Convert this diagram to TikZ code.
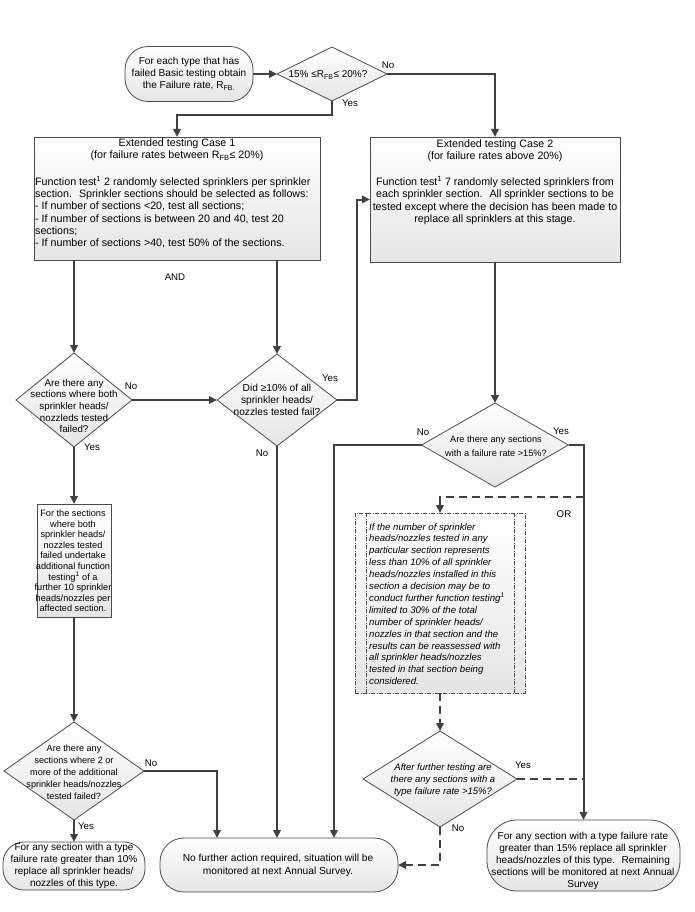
\documentclass[tikz,border=0pt]{standalone}
\usepackage{fontspec}
\setmainfont{Liberation Sans}
\usetikzlibrary{shapes.geometric,arrows.meta}
\definecolor{linec}{HTML}{404040}
\definecolor{borderc}{HTML}{4A4A4A}
\newcommand\fz[2]{\fontsize{#1}{#2}\selectfont}
\begin{document}
\begin{tikzpicture}[x=1pt,y=-1pt,
  shapebox/.style={draw=borderc, line width=0.8pt, top color=white, bottom color=black!10, inner sep=0pt, outer sep=0pt},
  dashbox/.style={draw=borderc, line width=0.8pt, dash pattern=on 4pt off 1.5pt on 1pt off 1.5pt, top color=white, bottom color=black!10, inner sep=0pt, outer sep=0pt},
  txt/.style={align=center, inner sep=0pt, text=black},
  lab/.style={inner sep=0pt, font=\fz{9.7}{11}},
  conn/.style={draw=linec, line width=2pt, -{Triangle[length=8pt,width=7.5pt]}},
  plain/.style={draw=linec, line width=2pt},
  dconn/.style={conn, dash pattern=on 8pt off 5pt},
  dplain/.style={plain, dash pattern=on 8pt off 5pt}
]
\useasboundingbox (0,0) rectangle (694,912);

% ---------- shapes ----------
\node[shapebox, rounded corners=23pt, minimum width=128pt, minimum height=55pt] (start) at (189,74) {};
\node[shapebox, diamond, minimum width=110pt, minimum height=54pt] (d1) at (332,74) {};
\node[shapebox, rectangle, minimum width=286pt, minimum height=123pt] (b1) at (177,198.5) {};
\node[shapebox, rectangle, minimum width=250pt, minimum height=125pt] (b2) at (495,199.5) {};
\node[shapebox, diamond, minimum width=116pt, minimum height=94pt] (d3) at (74,400) {};
\node[shapebox, diamond, minimum width=120pt, minimum height=92pt] (d4) at (277,400) {};
\node[shapebox, diamond, minimum width=147pt, minimum height=84pt] (d6) at (495,445) {};
\node[shapebox, rectangle, minimum width=74pt, minimum height=113pt] (b3) at (74,560.5) {};
\node[dashbox, rectangle, minimum width=170pt, minimum height=180pt] (b4) at (440,603) {};
\draw[borderc, line width=0.8pt, dash pattern=on 4pt off 1.5pt on 1pt off 1.5pt]
  ([xshift=11pt]b4.north west) -- ([xshift=11pt]b4.south west)
  ([xshift=-11pt]b4.north east) -- ([xshift=-11pt]b4.south east);
\node[shapebox, diamond, minimum width=140pt, minimum height=98pt] (d5) at (74,771) {};
\node[shapebox, diamond, minimum width=154pt, minimum height=96pt] (d7) at (440,779) {};
\node[shapebox, rounded corners=21pt, minimum width=142pt, minimum height=48pt] (t1) at (74,866) {};
\node[shapebox, rounded corners=24pt, minimum width=238pt, minimum height=54pt] (t2) at (279,865) {};
\node[shapebox, rounded corners=30pt, minimum width=193pt, minimum height=71pt] (t3) at (583.5,855.5) {};

% ---------- texts ----------
\node[txt, font=\fz{10.1}{12}] (tstart) at (189,74) {For each type that has\\failed Basic testing obtain\\the Failure rate, R\textsubscript{FB.}};
\node[txt, font=\fz{10}{12}] (td1) at (328,75) {15\% ≤R\textsubscript{FB}≤ 20\%?};
\node[txt, font=\fz{10.7}{12.3}] (tb1h) at (177,150) {Extended testing Case 1\\(for failure rates between R\textsubscript{FB}≤ 20\%)};
\node[txt, align=left, anchor=west, font=\fz{10.7}{12.3}] (tb1b) at (35,212) {Function test\textsuperscript{1} 2 randomly selected sprinklers per sprinkler\\section.~ Sprinkler sections should be selected as follows:\\- If number of sections <20, test all sections;\\- If number of sections is between 20 and 40, test 20\\sections;\\- If number of sections >40, test 50\% of the sections.};
\node[txt, font=\fz{10.7}{12.3}] (tb2h) at (495,151) {Extended testing Case 2\\(for failure rates above 20\%)};
\node[txt, font=\fz{10.7}{12.3}] (tb2b) at (495,200.5) {Function test\textsuperscript{1} 7 randomly selected sprinklers from\\each sprinkler section.~ All sprinkler sections to be\\tested except where the decision has been made to\\replace all sprinklers at this stage.};
\node[txt, font=\fz{9.8}{11.7}] (td3) at (74,406) {Are there any\\sections where both\\sprinkler heads/\\nozzleds tested\\failed?};
\node[txt, font=\fz{10.2}{12}] (td4) at (277,400) {Did ≥10\% of all\\sprinkler heads/\\nozzles tested fail?};
\node[txt, font=\fz{9.2}{13.5}] (td6) at (496,446) {Are there any sections\\with a failure rate >15\%?};
\node[txt, font=\fz{9.2}{10.6}] (tb3) at (73,561) {For the sections\\where both\\sprinkler heads/\\nozzles tested\\failed undertake\\additional function\\testing\textsuperscript{1} of a\\further 10 sprinkler\\heads/nozzles per\\affected section.};
\node[txt, align=left, anchor=west, font=\fz{9.6}{11.9}\itshape] (tb4) at (369,604) {If the number of sprinkler\\heads/nozzles tested in any\\particular section represents\\less than 10\% of all sprinkler\\heads/nozzles installed in this\\section a decision may be to\\conduct further function testing\textsuperscript{1}\\limited to 30\% of the total\\number of sprinkler heads/\\nozzles in that section and the\\results can be reassessed with\\all sprinkler heads/nozzles\\tested in that section being\\considered.};
\node[txt, font=\fz{9.1}{12}] (td5) at (74,772) {Are there any\\sections where 2 or\\more of the additional\\sprinkler heads/nozzles\\tested failed?};
\node[txt, font=\fz{9.5}{12}\itshape] (td7) at (443,780) {After further testing are\\there any sections with a\\type failure rate >15\%?};
\node[txt, font=\fz{10}{12}] (tt1) at (74,866) {For any section with a type\\failure rate greater than 10\%\\replace all sprinkler heads/\\nozzles of this type.};
\node[txt, font=\fz{10.2}{12.8}] (tt2) at (278,865.5) {No further action required, situation will be\\monitored at next Annual Survey.};
\node[txt, font=\fz{10.1}{12}] (tt3) at (583,861) {For any section with a type failure rate\\greater than 15\% replace all sprinkler\\heads/nozzles of this type.~ Remaining\\sections will be monitored at next Annual\\Survey};

% ---------- labels ----------
\node[lab] (l1no) at (388,65) {No};
\node[lab] (l1yes) at (350,103) {Yes};
\node[lab] (land) at (175,277) {AND};
\node[lab] (l3no) at (131,386) {No};
\node[lab] (l3yes) at (92,447) {Yes};
\node[lab] (l4yes) at (330,378) {Yes};
\node[lab] (l4no) at (262,453) {No};
\node[lab] (l6no) at (423,432) {No};
\node[lab] (l6yes) at (561,431) {Yes};
\node[lab] (lor) at (564,514) {OR};
\node[lab] (l5no) at (151,763) {No};
\node[lab] (l5yes) at (86,826) {Yes};
\node[lab] (l7yes) at (523,765) {Yes};
\node[lab] (l7no) at (458,828) {No};

% ---------- connectors ----------
\draw[conn] (start.east) -- (d1.west);
\draw[conn] (d1.south) -- ++(0,14) -| (b1.north);
\draw[conn] (d1.east) -| (b2.north);
\draw[conn] (d3.north |- b1.south) -- (d3.north);
\draw[conn] (d4.north |- b1.south) -- (d4.north);
\draw[conn] (d3.east) -- (d4.west);
\draw[conn] (d4.east) -- ++(20,0) |- (b2.west);
\draw[conn] (d4.south) -- (d4.south |- t2.north);
\draw[conn] (d3.south) -- (b3.north);
\draw[conn] (b3.south) -- (d5.north);
\draw[conn] (d5.east) -| ([xshift=-62pt]t2.north);
\draw[conn] (d5.south) -- (t1.north);
\draw[conn] (b2.south) -- (d6.north);
\draw[conn] (d6.west) -| ([xshift=55pt]t2.north);
\draw[conn] (d6.east) -| (t3.north);
\coordinate (orstart) at (t3.north |- 0,497);
\draw[dconn] (orstart) -| (b4.north);
\draw[dconn] (b4.south) -- (d7.north);
\draw[dplain] (d7.east) -- (d7.east -| t3.north);
\draw[dconn] (d7.south) |- (t2.east);
\end{tikzpicture}
\end{document}
